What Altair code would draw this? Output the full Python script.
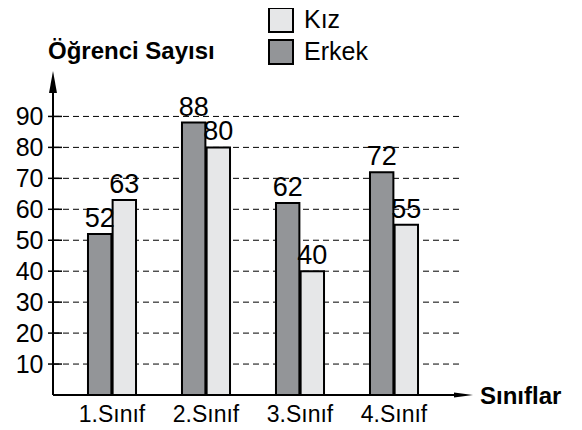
import altair as alt
import pandas as pd

classes = ["1.Sınıf", "2.Sınıf", "3.Sınıf", "4.Sınıf"]
erkek = [52, 88, 62, 72]
kiz = [63, 80, 40, 55]
tick_values = [10, 20, 30, 40, 50, 60, 70, 80, 90]
groups = ["Erkek", "Kız"]
legend_order = ["Kız", "Erkek"]
colors = ["#e6e7e8", "#939598"]

rows = []
for c, e, k in zip(classes, erkek, kiz):
    rows.append({"sinif": c, "cinsiyet": "Erkek", "sayi": e})
    rows.append({"sinif": c, "cinsiyet": "Kız", "sayi": k})
df = pd.DataFrame(rows)
ticks_df = pd.DataFrame({"sayi": tick_values})
one = pd.DataFrame({"a": [0]})

W, H = 420, 325
FONT = "Liberation Sans"

yscale = alt.Scale(domain=[0, 105], nice=False, zero=True)

x_enc = alt.X(
    "sinif:N", sort=classes,
    scale=alt.Scale(range=[12, 388], paddingInner=0.489, paddingOuter=0.2445),
    axis=alt.Axis(title=None, labelAngle=0, labelFontSize=23, labelFont=FONT,
                  labelColor="black", domain=False, ticks=False, labelPadding=8),
)
xoff = alt.XOffset("cinsiyet:N", sort=groups, scale=alt.Scale(paddingInner=0.05))

bars = alt.Chart(df).mark_bar(stroke="black", strokeWidth=2).encode(
    x=x_enc,
    xOffset=xoff,
    y=alt.Y("sayi:Q", scale=yscale,
            axis=alt.Axis(values=tick_values, title=None, labelFontSize=25, labelFont=FONT,
                          labelColor="black", tickSize=0, domain=False, grid=False,
                          labelPadding=10)),
    color=alt.Color("cinsiyet:N",
                    scale=alt.Scale(domain=legend_order, range=colors),
                    legend=alt.Legend(orient="none", legendX=215, legendY=-63, title=None,
                                      symbolType="square", symbolSize=576,
                                      symbolStrokeColor="black", symbolStrokeWidth=2,
                                      symbolOpacity=1, labelFontSize=25, labelFont=FONT,
                                      labelColor="black", labelOffset=10, rowPadding=0)),
)

labels = alt.Chart(df).mark_text(dy=-1, baseline="bottom", fontSize=27, font=FONT,
                                 color="black").encode(
    x=alt.X("sinif:N", sort=classes),
    xOffset=xoff,
    y=alt.Y("sayi:Q", scale=yscale),
    text="sayi:Q",
)

grid = alt.Chart(ticks_df).mark_rule(strokeDash=[6, 4], color="black", strokeWidth=1).encode(
    y=alt.Y("sayi:Q", scale=yscale), x=alt.value(0), x2=alt.value(407)
)
yticks = alt.Chart(ticks_df).mark_rule(color="black", strokeWidth=1.5).encode(
    y=alt.Y("sayi:Q", scale=yscale), x=alt.value(-5), x2=alt.value(9)
)

yaxis_line = alt.Chart(one).mark_rule(color="black", strokeWidth=2).encode(
    x=alt.value(0), y=alt.value(H), y2=alt.value(18)
)
yarrow = alt.Chart(one).mark_point(shape="M0,-1L0.36,1L-0.36,1Z", filled=True, size=484,
                                   color="black", opacity=1).encode(
    x=alt.value(0), y=alt.value(12)
)
xaxis_line = alt.Chart(one).mark_rule(color="black", strokeWidth=2).encode(
    x=alt.value(0), x2=alt.value(W - 15), y=alt.value(H)
)
xarrow = alt.Chart(one).mark_point(shape="M1,0L-1,-0.26L-1,0.26Z", filled=True, size=361,
                                   color="black", opacity=1).encode(
    x=alt.value(W - 9.5), y=alt.value(H)
)

ytitle = alt.Chart(one).mark_text(text="Öğrenci Sayısı", align="left", baseline="middle",
                                  fontSize=24, fontWeight="bold", font=FONT,
                                  color="black").encode(
    x=alt.value(-5), y=alt.value(-18)
)
xtitle = alt.Chart(one).mark_text(text="Sınıflar", align="left", baseline="middle",
                                  fontSize=24, fontWeight="bold", font=FONT,
                                  color="black").encode(
    x=alt.value(427), y=alt.value(H + 2)
)

chart = alt.layer(grid, bars, labels, yticks, yaxis_line, yarrow, xaxis_line, xarrow,
                  ytitle, xtitle).properties(
    width=W, height=H,
    autosize=alt.AutoSizeParams(type="none"),
    padding={"left": 45, "top": 62, "right": 100, "bottom": 30},
    background="white",
).configure_view(stroke=None)

chart.save("out.html", embed_options={"renderer": "svg", "actions": False})
